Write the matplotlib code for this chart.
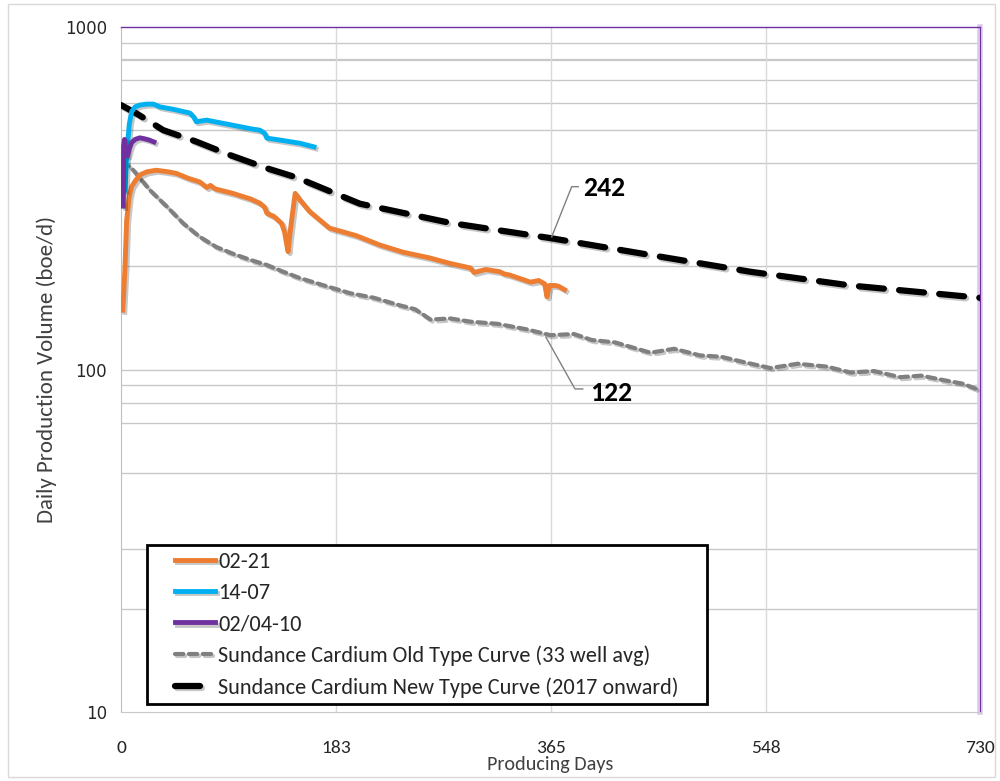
import matplotlib
matplotlib.use('Agg')
import matplotlib.pyplot as plt
import matplotlib.patheffects as pe
from matplotlib import font_manager
from matplotlib.patches import Rectangle

plt.rcParams['lines.scale_dashes'] = False

avail = {f.name for f in font_manager.fontManager.ttflist}
def pick(cands):
    for c in cands:
        if c in avail:
            return c
    return 'DejaVu Sans'
CAL = pick(['Carlito', 'Calibri', 'Lato', 'Open Sans'])
plt.rcParams['font.family'] = [CAL, 'DejaVu Sans']

# ---------------- data ----------------
days_0221 = [1.5, 2, 3.4, 4.8, 7, 9, 12, 16, 22, 30, 40, 47, 57, 67, 73, 76, 80, 95, 110,
             118, 122, 124, 130, 136.5, 139, 141, 142, 143, 145, 148, 152, 160, 177, 200,
             220, 240, 262, 280, 297, 300, 310, 322, 326, 330, 348, 355, 360, 362, 364,
             369, 372, 377]
vol_0221 = [149, 160, 200, 273, 320, 342, 355, 370, 378, 382, 378, 374, 362, 353, 340, 345,
            337, 327, 315, 306, 298, 286, 280, 267, 252, 230, 221, 240, 273, 327, 313, 290,
            259, 246, 231, 220, 212, 204, 198, 192, 196, 193, 190, 189, 180, 182, 178, 163,
            176, 176, 175, 171]

days_1407 = [3.4, 5, 7, 9, 12, 16, 22, 27.5, 33, 45, 58.6, 62, 64, 68, 72.8, 85, 95, 110,
             118, 122, 124, 135, 152, 164]
vol_1407 = [334, 430, 520, 566, 585, 592, 596, 596, 585, 575, 561, 545, 529, 532, 535, 525,
            517, 505, 500, 490, 474, 468, 458, 447]

days_020410 = [2, 2.2, 3, 4, 5.5, 7, 9, 12, 16, 20, 24, 28]
vol_020410 = [300, 450, 470, 430, 420, 440, 460, 470, 475, 472, 468, 462]

days_old = [2, 4, 10.5, 24.6, 39, 53, 67, 81, 95, 110, 124, 138, 152, 175, 195, 215, 237,
            250, 263, 280, 297, 320, 345, 365, 385, 400, 420, 450, 470, 492, 510, 530, 552,
            575, 600, 620, 640, 662, 680, 700, 715, 730]
vol_old = [410, 400, 382, 334, 299, 267, 244, 228, 218, 209, 202, 193, 185, 175, 167, 162,
           154, 150, 140, 141, 138, 136, 131, 126, 127, 122, 120, 112, 115, 110, 109, 105,
           101, 104, 102, 98, 99, 95, 96, 93, 91, 87]

days_new = [0, 13, 36, 64, 92.6, 124, 149, 203, 280, 365, 450, 535, 620, 730]
vol_new = [592, 560, 500, 463, 423, 387, 364, 305, 268, 242, 216, 193, 176, 162]

labels = ['02-21', '14-07', '02/04-10',
          'Sundance Cardium Old Type Curve (33 well avg)',
          'Sundance Cardium New Type Curve (2017 onward)']
x_ticks = [0, 183, 365, 548, 730]
y_ticks = [10, 100, 1000]
y_grid = [20, 30, 50, 70, 80, 90, 100, 200, 400, 500, 600, 700, 800, 900]

# callouts: leader polyline and text anchor (data units)
lead242_x = [366, 383, 388.6]
lead242_y = [244, 342, 342]
lead122_x = [361, 385.8, 392.4]
lead122_y = [124.5, 87.8, 87.8]
txt242 = (392.6, 339, '242')
txt122 = (398.6, 85.5, '122')

# ---------------- figure ----------------
fig = plt.figure(figsize=(10, 7.81), dpi=100)
fig.patches.append(Rectangle((0.008, 0.005), 0.987, 0.99, transform=fig.transFigure,
                             fill=False, edgecolor='#d9d9d9', lw=1))
ax = fig.add_axes([0.121, 0.0883, 0.859, 0.877])
ax.set_yscale('log')
ax.set_xlim(0, 730)
ax.set_ylim(10, 1000)

for g in y_grid:
    ax.axhline(g, color='#c8c8c8', lw=1.6 if g == 800 else 1.0, zorder=0)
for xv in x_ticks[1:-1]:
    ax.axvline(xv, color='#d9d9d9', lw=1.0, zorder=0)

def shadow():
    return [pe.SimpleLineShadow(offset=(1.5, -1.5), alpha=0.22, shadow_color='k'), pe.Normal()]

l_old, = ax.plot(days_old, vol_old, color='#808080', lw=3, dashes=(6, 4), dash_capstyle='round',
                 path_effects=shadow(), zorder=3)
l_new, = ax.plot(days_new, vol_new, color='black', lw=4.5, dashes=(18, 11), dash_capstyle='round',
                 path_effects=shadow(), zorder=4)
l_a, = ax.plot(days_0221, vol_0221, color='#ED7D31', lw=3.5, path_effects=shadow(), zorder=5)
l_b, = ax.plot(days_1407, vol_1407, color='#00B0F0', lw=3.5, path_effects=shadow(), zorder=5)
l_c, = ax.plot(days_020410, vol_020410, color='#7030A0', lw=3.5, path_effects=shadow(), zorder=6)

# spines
ax.spines['left'].set_color('#bfbfbf')
ax.spines['bottom'].set_color('#c8c8c8')
ax.spines['top'].set_color('#7030A0')
ax.spines['top'].set_linewidth(1.0)
ax.spines['right'].set_color('#7030A0')
ax.spines['right'].set_linewidth(0.8)
ax.axvline(730, color='#dcc8ec', lw=4, zorder=1, clip_on=False)

ax.set_xticks(x_ticks)
ax.set_xticklabels([str(v) for v in x_ticks], fontsize=14)
ax.set_yticks(y_ticks)
ax.set_yticklabels(['10', '100', '1000'], fontsize=12, family='DejaVu Sans')
ax.minorticks_off()
ax.tick_params(axis='both', length=0, colors='#262626')
ax.tick_params(axis='y', pad=10)
ax.tick_params(axis='x', pad=20)
ax.set_xlabel('Producing Days', fontsize=14.5, color='#404040', labelpad=0)
ax.set_ylabel('Daily Production Volume (boe/d)', fontsize=16.5, color='#404040', labelpad=6)

# callouts
ax.plot(lead242_x, lead242_y, color='#808080', lw=1.0, zorder=7)
ax.plot(lead122_x, lead122_y, color='#808080', lw=1.0, zorder=7)
for tx, ty, s in (txt242, txt122):
    ax.text(tx, ty, s, fontsize=20, fontweight='bold', va='center', ha='left', color='black')

# legend: separate frame + frameless legend
fig.patches.append(Rectangle((0.147, 1 - 704 / 781), 0.56, 159 / 781, transform=fig.transFigure,
                             facecolor='white', edgecolor='black', lw=2, zorder=8))
leg = fig.legend([l_a, l_b, l_c, l_old, l_new], labels, loc='upper left',
                 bbox_to_anchor=(0.175, 1 - 552 / 781), frameon=False, fontsize=16,
                 handlelength=1.8, handletextpad=0.15, labelspacing=0.5,
                 borderaxespad=0, borderpad=0)
leg.set_zorder(9)
for t in leg.get_texts():
    t.set_color('#262626')

fig.savefig('out.png', dpi=100)
